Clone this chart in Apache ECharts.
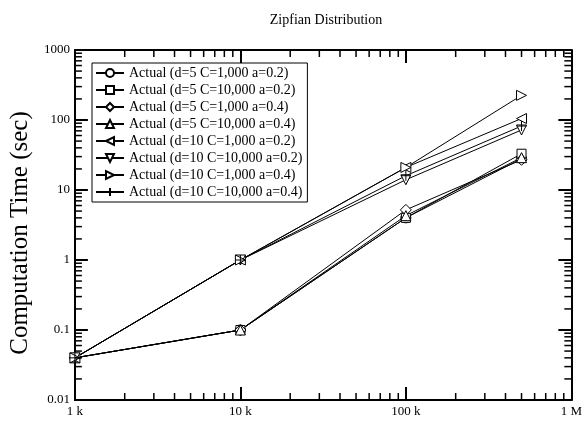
<!DOCTYPE html>
<html lang="en">
<head>
    <meta charset="UTF-8">
    <title>Zipfian Distribution</title>
    <script src="https://cdn.jsdelivr.net/npm/echarts@6.0.0/dist/echarts.min.js"></script>
    <style>
        html, body { margin: 0; padding: 0; background: #fff; }
        #chart { width: 585px; height: 423px; }
    </style>
</head>
<body>
    <div id="chart"></div>
    <script>
        // problem sizes (x) and computation times (y, sec)
        const sizes = [1000, 10000, 100000, 500000];
        const d5c1000a02 = [0.04, 0.1, 4.0, 28];
        const d5c10000a02 = [0.04, 0.1, 4.0, 33];
        const d5c1000a04 = [0.04, 0.1, 5.2, 27];
        const d5c10000a04 = [0.04, 0.1, 4.3, 29];
        const d10c1000a02 = [0.04, 1, 21, 105];
        const d10c10000a02 = [0.04, 1, 14, 72];
        const d10c1000a04 = [0.04, 1, 21, 225];
        const d10c10000a04 = [0.04, 1, 16, 82];

        const xTicks = [1000, 10000, 100000, 1000000];
        const xTickLabels = ["1 k", "10 k", "100 k", "1 M"];
        const yTicks = [0.01, 0.1, 1, 10, 100, 1000];
        const yTickLabels = ["0.01", "0.1", "1", "10", "100", "1000"];

        const serif = "Liberation Serif";
        const plusPath = "path://M0,5L10,5M5,0L5,10";
        const xMin = xTicks[0], xMax = xTicks[xTicks.length - 1];
        const yMin = yTicks[0], yMax = yTicks[yTicks.length - 1];

        // minor ticks at 2..9 of every decade
        function minorValues(majors) {
            let out = [];
            majors.slice(0, -1).forEach(d => {
                for (let m = 2; m <= 9; m++) out.push(Number((d * m).toPrecision(3)));
            });
            return out;
        }

        function pairs(vals) {
            return vals.map((v, i) => [sizes[i], v]);
        }

        const series = [
            { name: "Actual (d=5 C=1,000 a=0.2)", data: d5c1000a02, symbol: "circle", size: 10, rot: 0 },
            { name: "Actual (d=5 C=10,000 a=0.2)", data: d5c10000a02, symbol: "rect", size: 9, rot: 0 },
            { name: "Actual (d=5 C=1,000 a=0.4)", data: d5c1000a04, symbol: "diamond", size: 11, rot: 0 },
            { name: "Actual (d=5 C=10,000 a=0.4)", data: d5c10000a04, symbol: "triangle", size: 10, rot: 0 },
            { name: "Actual (d=10 C=1,000 a=0.2)", data: d10c1000a02, symbol: "triangle", size: 10, rot: 90 },
            { name: "Actual (d=10 C=10,000 a=0.2)", data: d10c10000a02, symbol: "triangle", size: 10, rot: 180 },
            { name: "Actual (d=10 C=1,000 a=0.4)", data: d10c1000a04, symbol: "triangle", size: 10, rot: -90 },
            { name: "Actual (d=10 C=10,000 a=0.4)", data: d10c10000a04, symbol: plusPath, size: 10, rot: 0 }
        ].map(s => ({
            name: s.name,
            type: "line",
            data: pairs(s.data),
            symbol: s.symbol,
            symbolSize: s.size,
            symbolRotate: s.rot,
            showAllSymbol: true,
            lineStyle: { color: "#000", width: 1 },
            itemStyle: { color: "#fff", borderColor: "#000", borderWidth: 1 },
            emphasis: { disabled: true },
            animation: false
        }));
        // plus has no area to fill
        series[7].itemStyle.color = "transparent";

        // minor ticks on all four sides, placed through the axes' own scales
        const tickStyle = { stroke: "#000", lineWidth: 1.5 };
        const minorLen = 7;
        series.push({
            type: "custom", name: "xMinor", silent: true, clip: false, z: 5,
            data: minorValues(xTicks).map(v => [v, yMin]),
            encode: { x: 0, y: 1 },
            renderItem: (params, api) => {
                const v = api.value(0);
                const b = api.coord([v, yMin]), t = api.coord([v, yMax]);
                return { type: "group", children: [
                    { type: "line", shape: { x1: b[0], y1: b[1], x2: b[0], y2: b[1] - minorLen }, style: tickStyle },
                    { type: "line", shape: { x1: t[0], y1: t[1], x2: t[0], y2: t[1] + minorLen }, style: tickStyle }
                ] };
            }
        });
        series.push({
            type: "custom", name: "yMinor", silent: true, clip: false, z: 5,
            data: minorValues(yTicks).map(v => [xMin, v]),
            encode: { x: 0, y: 1 },
            renderItem: (params, api) => {
                const v = api.value(1);
                const l = api.coord([xMin, v]), r = api.coord([xMax, v]);
                return { type: "group", children: [
                    { type: "line", shape: { x1: l[0], y1: l[1], x2: l[0] + minorLen, y2: l[1] }, style: tickStyle },
                    { type: "line", shape: { x1: r[0], y1: r[1], x2: r[0] - minorLen, y2: r[1] }, style: tickStyle }
                ] };
            }
        });

        function majorAxis(pos, min, max, labels) {
            return {
                type: "log", logBase: 10, position: pos, min: min, max: max,
                splitLine: { show: false },
                axisLine: { show: true, onZero: false, lineStyle: { color: "#000", width: 2 } },
                axisTick: { inside: true, length: 13, lineStyle: { color: "#000", width: 2 } },
                axisLabel: {
                    show: labels != null,
                    fontFamily: serif, fontSize: 13, color: "#000", margin: 5,
                    formatter: v => {
                        let i = Math.round(Math.log10(v) - Math.log10(min));
                        return labels ? labels[i] : "";
                    }
                }
            };
        }

        const chart = echarts.init(document.getElementById("chart"));
        chart.setOption({
            backgroundColor: "#fff",
            animation: false,
            title: {
                text: "Zipfian Distribution", left: 321, textAlign: "center", top: 8,
                textStyle: { fontFamily: serif, fontSize: 14, fontWeight: "normal", color: "#000" }
            },
            grid: { left: 71, right: 13, top: 50, bottom: 23 },
            legend: {
                orient: "vertical", left: 92, top: 63,
                backgroundColor: "#fff", borderColor: "#000", borderWidth: 1,
                padding: [3, 5, 3, 3], itemGap: 3, itemWidth: 28, itemHeight: 10,
                textStyle: { fontFamily: serif, fontSize: 14, lineHeight: 14, color: "#000" },
                data: series.slice(0, 8).map(s => s.name)
            },
            xAxis: [
                majorAxis("bottom", xMin, xMax, xTickLabels),
                majorAxis("top", xMin, xMax, null)
            ],
            yAxis: [
                Object.assign(majorAxis("left", yMin, yMax, yTickLabels), {
                    name: "Computation Time (sec)", nameLocation: "middle", nameGap: 2,
                    nameTextStyle: { fontFamily: serif, fontSize: 25, color: "#000", padding: [0, 16, 0, 0] }
                }),
                majorAxis("right", yMin, yMax, null)
            ],
            series: series
        });
    </script>
</body>
</html>
